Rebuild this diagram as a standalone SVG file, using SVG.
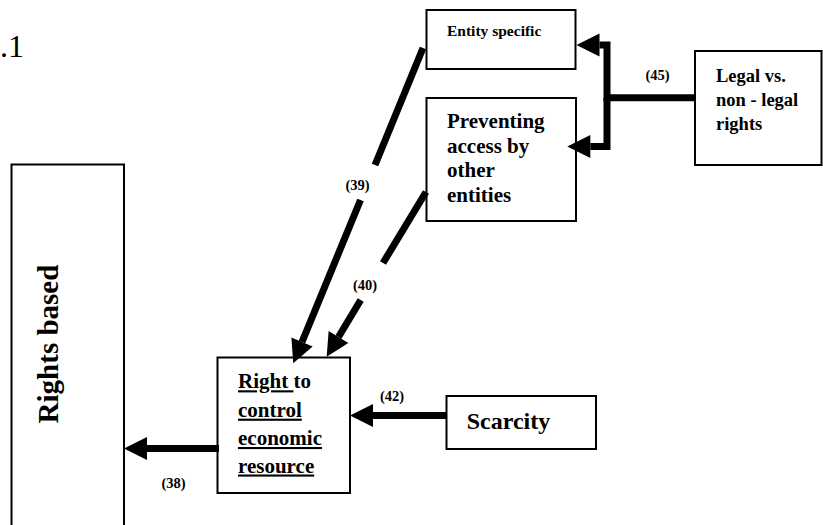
<svg xmlns="http://www.w3.org/2000/svg" width="823" height="525" viewBox="0 0 823 525">
  <style>
    .box { fill: #ffffff; stroke: #000000; stroke-width: 2; }
    .lbl { font-family: "Liberation Serif", "Times New Roman", serif; font-weight: bold; fill: #000000; }
    .num { font-family: "Liberation Serif", "Times New Roman", serif; font-weight: bold; font-size: 14.5px; fill: #000000; }
    .conn { fill: none; stroke: #000000; stroke-width: 7; stroke-linecap: butt; stroke-linejoin: miter; }
    .u { text-decoration: underline; }
  </style>
  <defs>
    <marker id="head" markerUnits="userSpaceOnUse" markerWidth="24" markerHeight="24" refX="0" refY="11.5" orient="auto" overflow="visible">
      <path d="M0,0 L23,11.5 L0,23 Z" fill="#000000"/>
    </marker>
  </defs>

  <rect width="823" height="525" fill="#ffffff"/>

  <!-- figure number fragment -->
  <text x="0" y="56.7" font-family="Liberation Serif, Times New Roman, serif" font-size="32" fill="#000000">.1</text>

  <!-- nodes -->
  <g id="rights-based">
    <rect class="box" x="11.5" y="164.5" width="112.5" height="380" stroke-width="1.8"/>
    <text class="lbl" font-size="29" text-anchor="middle" transform="translate(58,344) rotate(-90)">Rights based</text>
  </g>

  <g id="entity-specific">
    <rect class="box" x="426.5" y="10" width="149" height="59"/>
    <text class="lbl" x="447" y="36" font-size="15.5">Entity specific</text>
  </g>

  <g id="preventing-access">
    <rect class="box" x="426.5" y="98" width="149.5" height="123"/>
    <text class="lbl" font-size="21">
      <tspan x="447" y="128.3">Preventing</tspan>
      <tspan x="447" y="152.7">access by</tspan>
      <tspan x="447" y="177">other</tspan>
      <tspan x="447" y="201.5">entities</tspan>
    </text>
  </g>

  <g id="legal-rights">
    <rect class="box" x="695" y="51" width="126.5" height="114"/>
    <text class="lbl" font-size="18.5">
      <tspan x="716" y="81.7">Legal vs.</tspan>
      <tspan x="716" y="106">non - legal</tspan>
      <tspan x="716" y="130">rights</tspan>
    </text>
  </g>

  <g id="right-to-control">
    <rect class="box" x="217.5" y="357.5" width="132.5" height="135.5"/>
    <text class="lbl" font-size="21">
      <tspan x="238" y="388.3"><tspan class="u">Right </tspan>to</tspan>
      <tspan x="238" y="416.7" class="u">control</tspan>
      <tspan x="238" y="445" class="u">economic</tspan>
      <tspan x="238" y="472.5" class="u">resource</tspan>
    </text>
  </g>

  <g id="scarcity">
    <rect class="box" x="446.5" y="396" width="149.5" height="53"/>
    <text class="lbl" x="466.7" y="429" font-size="24">Scarcity</text>
  </g>

  <!-- connectors -->
  <g id="connectors">
    <!-- (38) -->
    <path class="conn" d="M219,448.5 H147" marker-end="url(#head)"/>
    <text class="num" x="161.5" y="488">(38)</text>

    <!-- (42) -->
    <path class="conn" d="M446,415.5 H373" marker-end="url(#head)"/>
    <text class="num" x="380" y="401">(42)</text>

    <!-- (39) -->
    <path class="conn" d="M423,48 L375,165"/>
    <path class="conn" d="M360.5,200 L302,342" marker-end="url(#head)"/>
    <text class="num" x="345.5" y="189.5">(39)</text>

    <!-- (40) -->
    <path class="conn" d="M426,192 L383,263"/>
    <path class="conn" d="M360.7,300 L338.5,337" marker-end="url(#head)"/>
    <text class="num" x="353" y="289.5">(40)</text>

    <!-- (45) -->
    <path class="conn" d="M695,97.7 H607 V45 H599.5" marker-end="url(#head)"/>
    <path class="conn" d="M607,97.7 V146.5 H590.3" marker-end="url(#head)"/>
    <text class="num" x="645.5" y="79.5">(45)</text>
  </g>
</svg>
